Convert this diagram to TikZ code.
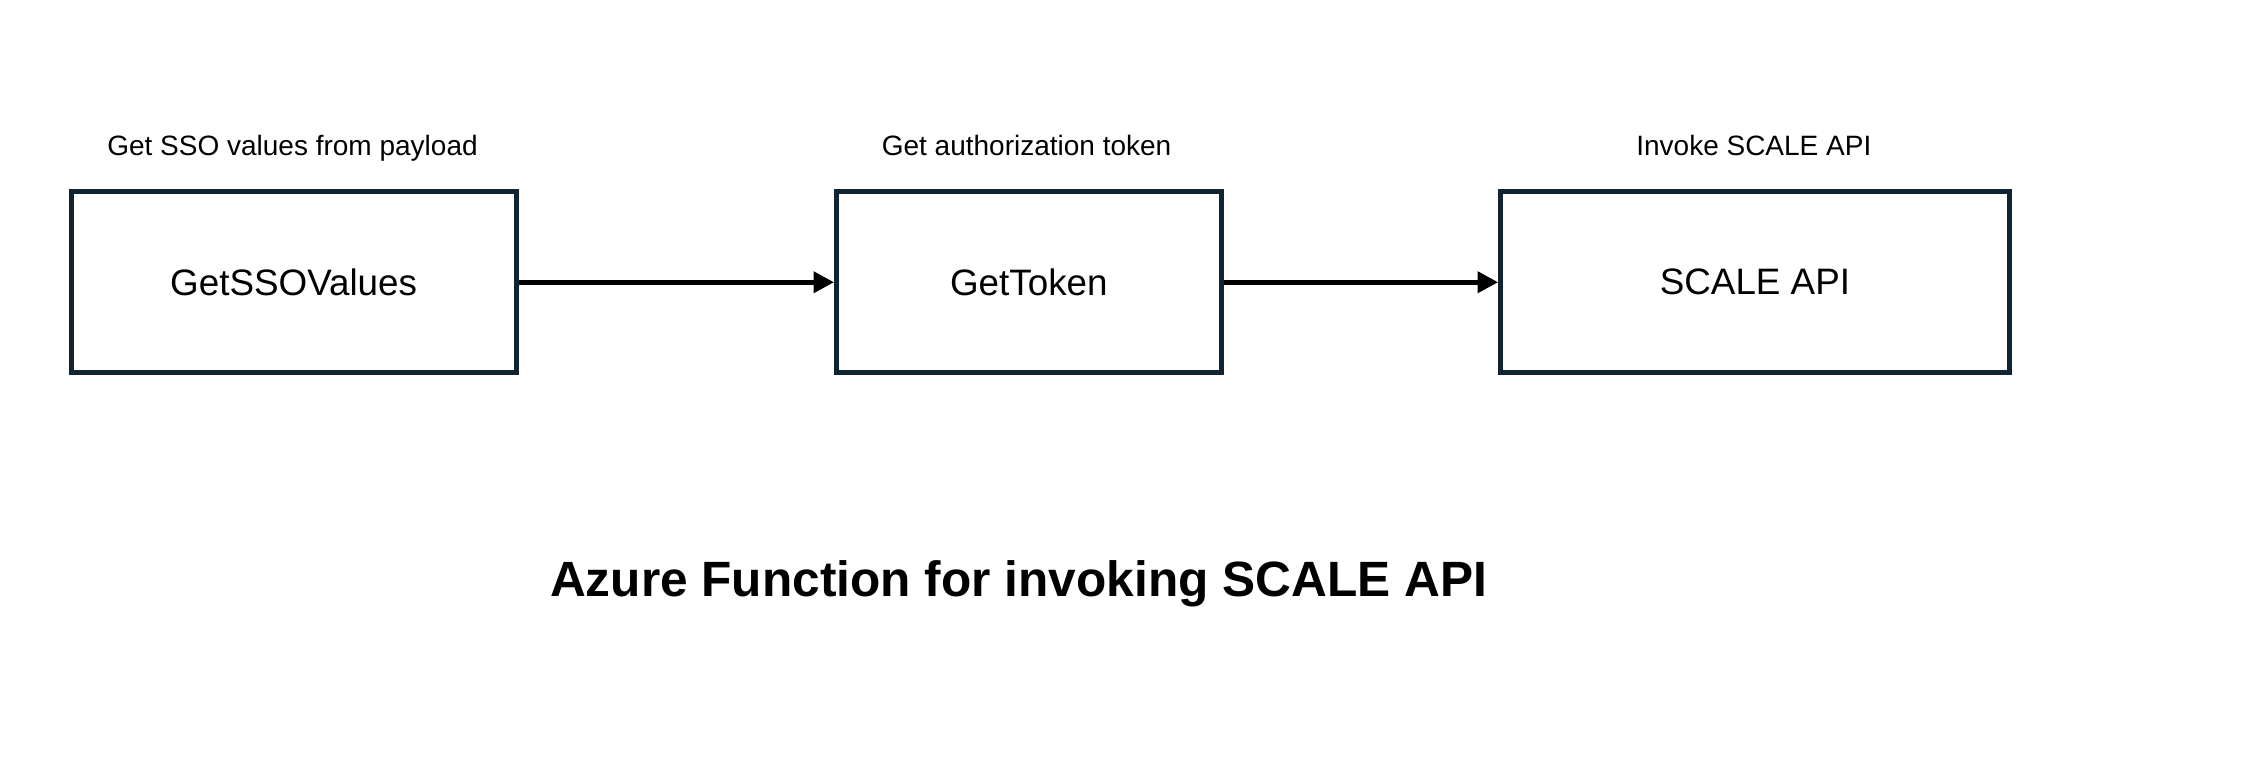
\documentclass[tikz,border=0pt]{standalone}
\usepackage{fontspec}
\setmainfont{Liberation Sans}
\usetikzlibrary{arrows.meta}
\definecolor{boxline}{RGB}{16,35,48}

\begin{document}
\begin{tikzpicture}[>={Triangle[length=1.8mm,width=1.8mm]}]
            \useasboundingbox (0,0) rectangle (19.875,-6.695);
            \begin{scope}[every node/.style={rectangle,draw=boxline,line width=1.2pt,inner sep=0pt,minimum height=1.59cm,font=\fontsize{9.2}{11}\selectfont}]
                \node[minimum width=3.91cm] (sso) at (2.58,-2.48) {GetSSOValues};
                \node[minimum width=3.38cm] (token) at (9.04,-2.48) {GetToken};
                \node[minimum width=4.47cm] (scale) at (15.42,-2.48) {SCALE API};
            \end{scope}
            \begin{scope}[every node/.style={anchor=base,inner sep=0pt,font=\fontsize{7}{8}\selectfont}]
                \node (ssolbl) at (2.57,-1.37) {Get SSO values from payload};
                \node (tokenlbl) at (9.02,-1.37) {Get authorization token};
                \node (scalelbl) at (15.41,-1.37) {Invoke SCALE API};
            \end{scope}
            \node[anchor=base,font=\fontsize{12.4}{14}\selectfont\bfseries] (title) at (8.95,-5.24) {Azure Function for invoking SCALE API};
            \draw[line width=1.25pt] (sso) edge [->] (token);
            \draw[line width=1.25pt] (token) edge [->] (scale);
        \end{tikzpicture}
\end{document}
